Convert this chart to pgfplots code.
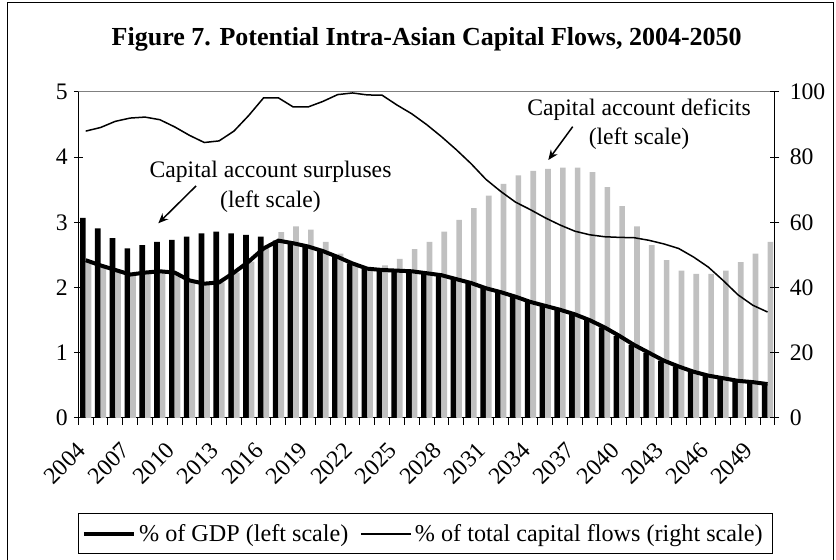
\documentclass[border=0pt]{standalone}
\usepackage{fontspec}
\setmainfont{Liberation Serif}
\usepackage{pgfplots}
\pgfplotsset{compat=1.18}
\usepackage{pgfplotstable}
\usetikzlibrary{arrows.meta}

\definecolor{barsilver}{HTML}{C0C0C0}
\definecolor{framegray}{HTML}{808080}
\newcommand\lab{\fontsize{14.2}{17}\selectfont}

% i, year, surplus bar, deficit bar, % of GDP (left), % of total flows (right)
\pgfplotstableread{
i  yr   sur  def  gdp  share
0  2004 3.07 2.42 2.42 88.0
1  2005 2.91 2.34 2.34 89.1
2  2006 2.76 2.27 2.27 91.0
3  2007 2.60 2.20 2.20 92.0
4  2008 2.65 2.23 2.23 92.3
5  2009 2.70 2.25 2.25 91.5
6  2010 2.73 2.23 2.23 89.3
7  2011 2.78 2.11 2.11 86.7
8  2012 2.83 2.06 2.06 84.5
9  2013 2.86 2.08 2.08 85.0
10 2014 2.83 2.23 2.23 88.0
11 2015 2.81 2.40 2.40 92.8
12 2016 2.78 2.60 2.60 98.2
13 2017 2.72 2.85 2.72 98.2
14 2018 2.68 2.94 2.68 95.4
15 2019 2.63 2.89 2.63 95.4
16 2020 2.56 2.70 2.56 97.1
17 2021 2.47 2.52 2.47 99.2
18 2022 2.37 2.38 2.37 99.7
19 2023 2.29 2.30 2.29 99.1
20 2024 2.27 2.34 2.27 99.0
21 2025 2.26 2.44 2.26 96.0
22 2026 2.25 2.59 2.25 93.3
23 2027 2.22 2.70 2.22 90.0
24 2028 2.19 2.86 2.19 86.3
25 2029 2.13 3.04 2.13 82.3
26 2030 2.07 3.22 2.07 78.0
27 2031 1.99 3.41 1.99 73.2
28 2032 1.93 3.59 1.93 69.5
29 2033 1.86 3.72 1.86 66.2
30 2034 1.78 3.79 1.78 63.9
31 2035 1.72 3.82 1.72 61.4
32 2036 1.66 3.84 1.66 59.2
33 2037 1.59 3.84 1.59 57.3
34 2038 1.50 3.77 1.50 56.2
35 2039 1.39 3.54 1.39 55.6
36 2040 1.26 3.25 1.26 55.4
37 2041 1.12 2.94 1.12 55.3
38 2042 1.00 2.65 1.00 54.5
39 2043 0.88 2.42 0.88 53.4
40 2044 0.79 2.26 0.79 52.0
41 2045 0.71 2.21 0.71 49.4
42 2046 0.65 2.21 0.65 46.3
43 2047 0.61 2.26 0.61 42.2
44 2048 0.57 2.39 0.57 37.8
45 2049 0.55 2.52 0.55 34.6
46 2050 0.52 2.70 0.52 32.5
}\flows

\pgfplotsset{
  flowsbase/.style={
    at={(46.98pt,85.2pt)}, anchor=south west,
    scale only axis, width=418pt, height=195.6pt,
    xmin=-0.5, xmax=46.5,
    tick label style={font=\lab},
    /pgf/number format/assume math mode=true,
    axis line style={line width=0.6pt},
    every tick/.style={black, line width=0.6pt},
  },
}

\begin{document}
\begin{tikzpicture}
\useasboundingbox (0,0) rectangle (501.6pt,336pt);

\begin{axis}[flowsbase,
    ymin=0, ymax=5, ytick={0,1,...,5},
    axis x line*=bottom, axis y line*=left,
    xtick={0,3,...,45},
    xticklabels={2004,2007,2010,2013,2016,2019,2022,2025,2028,2031,2034,2037,2040,2043,2046,2049},
    major x tick style={draw=none},
    minor xtick={-0.5,0.5,...,46.5},
    minor tick length=4pt, xtick align=outside,
    major tick length=5.4pt, ytick align=center,
    xticklabel style={inner sep=0pt, xshift=-6pt, yshift=-8pt, rotate=45, anchor=north east},
    yticklabel style={inner sep=0pt, anchor=east, xshift=-3.5pt},
    legend style={at={(0.496,-0.356)}, anchor=center, draw=none, fill=none,
      font=\fontsize{14.5}{17}\selectfont, legend columns=2,
      /tikz/every even column/.append style={column sep=5pt}},
    legend image code/.code={\draw[#1] (0pt,0pt) -- (30pt,0pt);},
  ]
  \addplot[ybar, bar width=0.38, bar shift=-0.19, fill=black, draw=none, forget plot]
    table[x=i, y=sur] {\flows};
  \addplot[ybar, bar width=0.38, bar shift=0.19, fill=barsilver, draw=none, forget plot]
    table[x=i, y=def] {\flows};
  \addplot[black, line width=2.4pt, no markers] table[x=i, y=gdp] {\flows};
  \addlegendentry{\% of GDP (left scale)}
  \addlegendimage{black, line width=0.9pt}
  \addlegendentry{\% of total capital flows (right scale)}
  \draw[framegray, line width=0.6pt] (rel axis cs:0,1) -- (rel axis cs:1,1);
\end{axis}

\begin{axis}[flowsbase,
    ymin=0, ymax=100, ytick={0,20,...,100},
    axis y line*=right, axis x line=none,
    major tick length=5.4pt, ytick align=center,
    yticklabel style={inner sep=0pt, anchor=west, xshift=6pt},
  ]
  \addplot[black, line width=0.9pt, no markers] table[x=i, y=share] {\flows};
\end{axis}

% pixel coordinates of the reference, origin top left
\begin{scope}[x=0.6pt, y=-0.6pt, yshift=336pt]
  \draw[line width=0.6pt] (7,560) -- (7,3) -- (833,3) -- (833,560);
  \draw[line width=0.6pt] (78.3,514) rectangle (772,554);
  \node[anchor=base, font=\bfseries\fontsize{15.6}{18}\selectfont] at (426.7,46)
    {Figure 7. Potential Intra-Asian Capital Flows, 2004-2050};
  \node[anchor=base, font=\lab] at (270.5,177.5) {Capital account surpluses};
  \node[anchor=base, font=\lab] at (270.5,208) {(left scale)};
  \node[anchor=base, font=\lab] at (639,115.5) {Capital account deficits};
  \node[anchor=base, font=\lab] at (639,145) {(left scale)};
  \draw[line width=0.9pt, -{Stealth[length=6pt, width=5pt]}] (196,186) -- (158.3,223.3);
  \draw[line width=0.9pt, -{Stealth[length=6pt, width=5pt]}] (572.7,126.7) -- (548.3,160);
\end{scope}
\end{tikzpicture}
\end{document}
